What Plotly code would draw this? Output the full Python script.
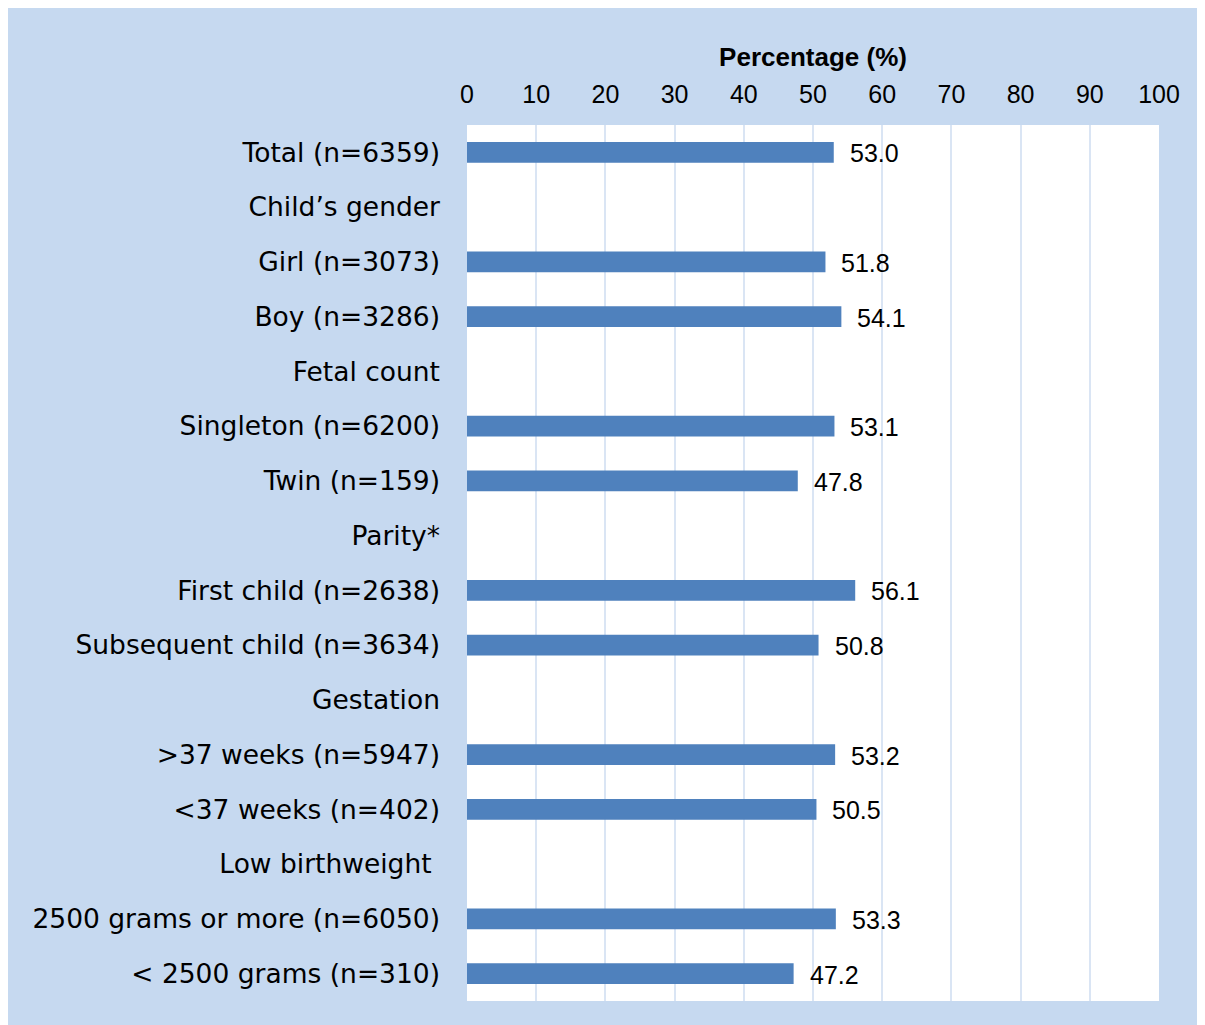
import plotly.graph_objects as go

categories = [
    "Total (n=6359)",
    "Child\u2019s gender",
    "Girl (n=3073)",
    "Boy (n=3286)",
    "Fetal count",
    "Singleton (n=6200)",
    "Twin (n=159)",
    "Parity*",
    "First child (n=2638)",
    "Subsequent child (n=3634)",
    "Gestation",
    ">37 weeks (n=5947)",
    "<37 weeks (n=402)",
    "Low birthweight\u00a0",
    "2500 grams or more (n=6050)",
    "< 2500 grams (n=310)",
]
# Header rows carry no value
values = [53.0, None, 51.8, 54.1, None, 53.1, 47.8, None, 56.1, 50.8, None, 53.2, 50.5, None, 53.3, 47.2]
x_ticks = [0, 10, 20, 30, 40, 50, 60, 70, 80, 90, 100]

BG = "#C6D9F0"
BAR = "#4F81BD"
GRID = "#DAE5F4"
W, H = 1213, 1025
ML, MT = 459, 117
PW, PH = 692, 876
MR, MB = W - ML - PW, H - MT - PH

fig = go.Figure()
fig.add_trace(go.Bar(
    x=values, y=categories, orientation="h",
    marker=dict(color=BAR, line=dict(width=0)),
    width=0.38, hoverinfo="skip",
))

for c, v in zip(categories, values):
    if v is None:
        continue
    fig.add_annotation(
        x=v, y=c, xref="x", yref="y", text=f"{v:.1f}", showarrow=False,
        xanchor="left", yanchor="middle", xshift=14, yshift=-1,
        font=dict(family="Arial, Liberation Sans", size=25, color="black"),
    )

fig.update_layout(
    width=W, height=H,
    margin=dict(l=ML, r=MR, t=MT, b=MB, pad=0),
    paper_bgcolor=BG, plot_bgcolor="white",
    showlegend=False,
    xaxis=dict(
        range=[0, 100], side="top", tickvals=x_ticks,
        showgrid=True, gridcolor=GRID, gridwidth=2,
        zeroline=False, showline=False, ticks="", ticklabelstandoff=16,
        tickfont=dict(family="Arial, Liberation Sans", size=25, color="black"),
        title=dict(text="<b>Percentage (%)</b>", standoff=5,
                   font=dict(family="Arial, Liberation Sans", size=26, color="black")),
        fixedrange=True,
    ),
    yaxis=dict(
        type="category", categoryorder="array", categoryarray=categories,
        autorange="reversed", showgrid=False, zeroline=False, showline=False,
        ticks="", ticklabelstandoff=26,
        tickfont=dict(family="DejaVu Sans, Verdana", size=26.5, color="black"),
        fixedrange=True,
    ),
)

fig.write_html("out.html", post_script="document.body.style.overflow='hidden';")
